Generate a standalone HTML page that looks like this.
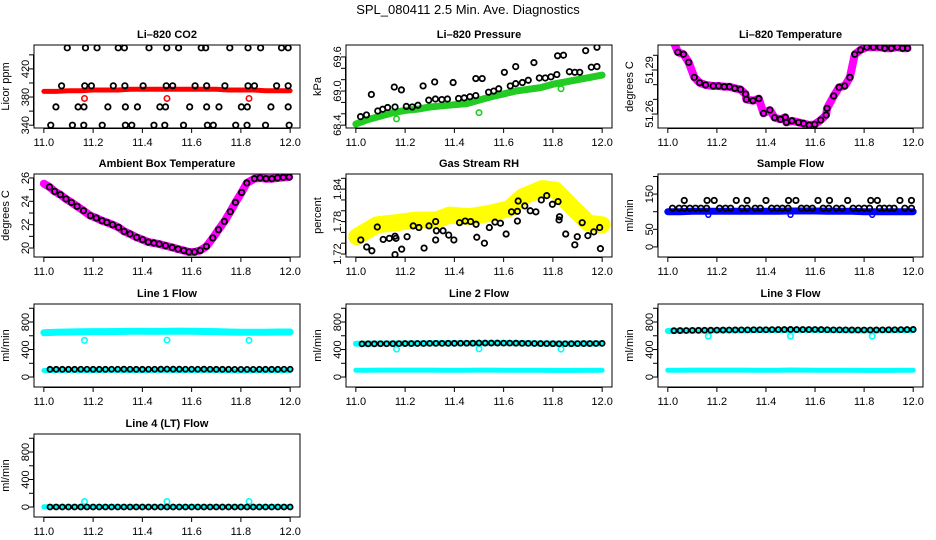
<!DOCTYPE html>
<html><head><meta charset="utf-8"><style>
html,body{margin:0;padding:0;background:#fff}
svg{display:block;font-family:"Liberation Sans",sans-serif}
</style></head><body>
<svg id="fig" width="936" height="540" viewBox="0 0 936 540">
<rect width="936" height="540" fill="#fff"/>
<text x="468" y="14" text-anchor="middle" font-size="13">SPL_080411  2.5 Min. Ave. Diagnostics</text>
</svg>
<script>
// ---- data ----
const timeBand = [11.00,11.05,11.10,11.15,11.20,11.25,11.30,11.35,11.40,11.45,11.50,11.55,11.60,11.65,11.70,11.75,11.80,11.85,11.90,11.95,12.00];
const time41 = [11.000,11.025,11.050,11.075,11.100,11.125,11.150,11.175,11.200,11.225,11.250,11.275,11.300,11.325,11.350,11.375,11.400,11.425,11.450,11.475,11.500,11.525,11.550,11.575,11.600,11.625,11.650,11.675,11.700,11.725,11.750,11.775,11.800,11.825,11.850,11.875,11.900,11.925,11.950,11.975,12.000];
const outlierTimes = [11.165,11.500,11.833];

// CO2
const co2Band = [388,388,389,389,390,390,390,391,391,391,391,391,391,391,391,390,390,390,389,389,389];
const co2BlackX = [11.095,11.169,11.216,11.302,11.327,11.427,11.499,11.547,11.639,11.657,11.755,11.829,11.880,11.965,11.992,
 11.072,11.166,11.193,11.282,11.329,11.403,11.497,11.523,11.614,11.661,11.735,11.829,11.855,11.945,11.992,
 11.049,11.139,11.163,11.260,11.331,11.380,11.471,11.494,11.592,11.661,11.711,11.802,11.826,11.922,11.992,
 11.028,11.116,11.162,11.237,11.331,11.357,11.447,11.491,11.567,11.664,11.688,11.779,11.825,11.900,11.996];
const co2BlackY = [450,450,450,450,450,450,450,450,450,450,450,450,450,450,450,
 396,396,396,396,396,396,396,396,396,396,396,396,396,396,396,
 366,366,366,366,366,366,366,366,366,366,366,366,366,366,366,
 340,340,340,340,340,340,340,340,340,340,340,340,340,340,340];
const co2Outliers = [378,378,378];

// Pressure
const presBand = [68.42,68.50,68.56,68.62,68.66,68.68,68.72,68.74,68.76,68.78,68.84,68.90,68.95,69.00,69.03,69.06,69.12,69.16,69.20,69.24,69.28];
const presBlackX = [11.019,11.043,11.063,11.089,11.109,11.129,11.159,11.156,11.185,11.205,11.229,11.252,11.273,11.296,11.320,11.323,11.349,11.372,11.395,11.417,11.440,11.463,11.487,11.487,11.513,11.539,11.560,11.580,11.603,11.627,11.649,11.649,11.676,11.700,11.723,11.745,11.769,11.792,11.816,11.819,11.843,11.867,11.889,11.909,11.933,11.956,11.979,11.979];
const presBlackY = [68.55,68.58,68.94,68.65,68.68,68.71,68.72,69.07,69.02,68.73,68.72,68.75,69.09,68.84,69.16,68.86,68.85,68.86,69.15,68.87,68.88,68.90,68.92,69.22,69.22,68.98,69.00,69.04,69.33,69.09,69.13,69.43,69.15,69.19,69.50,69.23,69.23,69.25,69.29,69.62,69.63,69.34,69.33,69.33,69.71,69.42,69.77,69.43];
const presOutliers = [68.51,68.62,69.04];

// Li-820 temperature
const ltempX = [11.000,11.019,11.041,11.064,11.085,11.108,11.130,11.154,11.185,11.207,11.230,11.251,11.273,11.296,11.317,11.320,11.347,11.371,11.390,11.416,11.435,11.459,11.479,11.483,11.506,11.533,11.553,11.576,11.599,11.623,11.645,11.649,11.676,11.698,11.721,11.742,11.762,11.785,11.811,11.838,11.865,11.884,11.911,11.935,11.957,11.977];
const ltempY = [51.316,51.3111,51.3021,51.3007,51.2952,51.2850,51.2813,51.2798,51.2791,51.2791,51.2786,51.2786,51.2775,51.2768,51.2736,51.2700,51.2691,51.2705,51.2605,51.2627,51.2575,51.2564,51.2578,51.2543,51.2554,51.2543,51.2536,51.2525,51.2530,51.2559,51.2593,51.2639,51.2723,51.2782,51.2791,51.2850,51.3007,51.3036,51.3055,51.3055,51.3055,51.3048,51.3048,51.3055,51.3048,51.3048];

// Ambient box temperature
const ambX = [11.000,11.023,11.044,11.067,11.090,11.112,11.135,11.161,11.189,11.213,11.236,11.256,11.279,11.303,11.326,11.350,11.377,11.401,11.424,11.447,11.468,11.494,11.521,11.545,11.568,11.589,11.612,11.635,11.660,11.686,11.709,11.733,11.757,11.778,11.803,11.824,11.855,11.878,11.902,11.926,11.949,11.972,11.996];
const ambY = [25.51,25.23,24.85,24.57,24.20,23.91,23.57,23.20,22.77,22.57,22.34,22.19,22.00,21.77,21.42,21.20,20.91,20.71,20.51,20.43,20.34,20.20,20.05,19.91,19.79,19.66,19.66,19.79,20.14,20.86,21.57,22.28,23.11,23.91,24.76,25.57,25.94,26.00,25.94,25.94,26.00,26.05,26.08];

// Gas stream RH
const rhBandX = [11.004,11.085,11.165,11.246,11.327,11.381,11.461,11.542,11.623,11.677,11.757,11.811,11.878,11.945,12.000];
const rhBandY = [1.752,1.774,1.778,1.783,1.783,1.792,1.789,1.795,1.804,1.826,1.841,1.838,1.807,1.777,1.774];
const rhBlackX = [11.020,11.044,11.065,11.087,11.111,11.136,11.159,11.159,11.163,11.186,11.208,11.233,11.256,11.277,11.297,11.324,11.324,11.327,11.354,11.377,11.398,11.421,11.444,11.466,11.488,11.491,11.522,11.542,11.565,11.587,11.610,11.632,11.656,11.656,11.659,11.686,11.708,11.731,11.753,11.775,11.798,11.821,11.825,11.827,11.852,11.889,11.899,11.919,11.942,11.966,11.990,11.993];
const rhBlackY = [1.746,1.733,1.726,1.770,1.747,1.749,1.753,1.719,1.749,1.729,1.752,1.772,1.769,1.731,1.772,1.780,1.746,1.763,1.763,1.755,1.746,1.778,1.781,1.780,1.775,1.751,1.740,1.769,1.779,1.777,1.757,1.798,1.799,1.781,1.818,1.809,1.800,1.798,1.820,1.828,1.812,1.817,1.783,1.789,1.757,1.737,1.752,1.778,1.754,1.761,1.769,1.730];

// Sample flow
const sfBand = [100,100,101,101,101,101,101,101,101,101,102,102,102,101,101,101,100,100,100,100,100];
const sfBlackX = [11.019,11.046,11.067,11.090,11.113,11.135,11.158,11.211,11.235,11.256,11.302,11.323,11.356,11.377,11.423,11.445,11.467,11.490,11.544,11.566,11.589,11.633,11.656,11.687,11.710,11.755,11.778,11.801,11.822,11.863,11.882,11.903,11.922,11.966,11.993,
 11.067,11.160,11.189,11.279,11.323,11.400,11.492,11.522,11.612,11.659,11.733,11.827,11.854,11.946,11.993];
const sfBlackY = [110,110,110,110,110,110,110,110,110,110,110,110,110,110,110,110,110,110,110,110,110,110,110,110,110,110,110,110,110,110,110,110,110,110,110,
 132,132,132,132,132,132,132,132,132,132,132,132,132,132,132];
const sfOutliers = [91,91,91];

// Line flows
const l1CyanHi = [645,650,655,658,660,660,662,665,665,663,665,668,665,662,660,655,650,650,652,655,655];
const l1CyanLo = [95,96,96,95,95,96,96,95,95,96,96,95,95,96,95,90,88,90,92,94,95];
const l1Black = [112,112,112,112,112,112,113,113,112,112,112,113,113,114,113,112,112,113,113,114,115,114,114,113,113,113,114,113,112,112,112,111,111,111,111,112,112,112,112,113,113];
const l1Outliers = [533,536,533];
const l2CyanHi = [485,486,487,488,488,489,490,490,490,490,492,494,494,492,490,488,486,486,487,488,488];
const l2CyanLo = [100,100,101,101,101,101,101,100,100,100,101,101,100,100,99,98,96,96,97,98,99];
const l2Black = [480,482,483,483,484,484,485,486,487,487,488,488,489,489,489,490,490,491,491,492,495,494,494,494,493,493,492,490,489,488,487,486,485,484,484,485,486,487,487,488,489];
const l2Outliers = [405,410,405];
const l3CyanHi = [670,672,675,677,678,680,681,682,682,683,684,685,685,683,682,680,678,679,680,682,683];
const l3CyanLo = [100,100,101,101,101,101,101,100,100,100,102,101,100,100,99,98,96,96,97,98,99];
const l3Black = [672,674,676,677,678,679,680,681,682,683,684,685,686,686,687,688,688,689,690,690,692,690,690,690,691,690,688,686,686,686,685,684,684,684,685,686,687,688,689,690,692];
const l3Outliers = [595,595,595];
const l4Cyan = [3,3,3,3,3,3,3,3,3,3,3,3,3,3,3,3,3,3,3,3,3];
const l4Black = [0,0,0,0,0,0,0,0,0,0,0,0,0,0,0,0,0,0,0,0,0,0,0,0,0,0,0,0,0,0,0,0,0,0,0,0,0,0,0,0,0];
const l4Outliers = [80,80,80];

const xTicks = [11.0,11.2,11.4,11.6,11.8,12.0];
const xTickLabels = ["11.0","11.2","11.4","11.6","11.8","12.0"];

// ---- layout ----
const NS = "http://www.w3.org/2000/svg";
const svg = document.getElementById('fig');
const colL = [34,346,658], colR = [300,612,923];
const rowT = [45,174,304,434], rowB = [128,257,387,517];

function mk(tag, attrs, parent){
  const e = document.createElementNS(NS, tag);
  for (const k in attrs) e.setAttribute(k, attrs[k]);
  (parent||svg).appendChild(e);
  return e;
}

function panel(id, title, ylab, col, row, ymin, ymax, yticks, ylabels){
  const L = colL[col], R = colR[col], T = rowT[row], B = rowB[row];
  const g = mk('g', {});
  
  
  const pad = (R - L) * 0.04 / 1.08;
  const xs = v => L + pad + (v - 11) * (R - L - 2*pad);
  const ys = v => B - (v - ymin) / (ymax - ymin) * (B - T);
  const clipId = 'clip-' + id;
  const cp = mk('clipPath', {id: clipId}, g);
  mk('rect', {x: L, y: T, width: R - L, height: B - T}, cp);
  const plot = mk('g', {'clip-path': 'url(#' + clipId + ')'}, g);
  
  
  const t = mk('text', {x: (L + R) / 2, y: T - 7, 'text-anchor': 'middle', 'font-size': 11, 'font-weight': 'bold'}, g);
  
  
  t.textContent = title;
  const fr = mk('rect', {x: L, y: T, width: R - L, height: B - T, fill: 'none', stroke: '#000', 'stroke-width': 1}, g);
  
  
  const xa = mk('g', {}, g);
  
  
  mk('line', {x1: xs(xTicks[0]), x2: xs(xTicks[xTicks.length-1]), y1: B + 0.5, y2: B + 0.5, stroke: '#000'}, xa);
  xTicks.forEach((v, i) => {
    mk('line', {x1: xs(v), x2: xs(v), y1: B, y2: B + 5, stroke: '#000'}, xa);
    const tl = mk('text', {x: xs(v), y: B + 18, 'text-anchor': 'middle', 'font-size': 11}, xa);
    
    
    tl.textContent = xTickLabels[i];
  });
  const ya = mk('g', {}, g);
  
  
  mk('line', {x1: L - 0.5, x2: L - 0.5, y1: ys(yticks[0]), y2: ys(yticks[yticks.length-1]), stroke: '#000'}, ya);
  yticks.forEach((v, i) => {
    mk('line', {x1: L - 5, x2: L, y1: ys(v), y2: ys(v), stroke: '#000'}, ya);
    if (ylabels[i] !== '') {
      const tx = L - 5, ty = ys(v);
      const tl = mk('text', {x: tx, y: ty, 'text-anchor': 'middle', 'font-size': 11, transform: 'rotate(-90 ' + tx + ' ' + ty + ')'}, ya);
      
      
      tl.textContent = ylabels[i];
    }
  });
  const lx = L - 25, ly = (T + B) / 2;
  const yl = mk('text', {x: lx, y: ly, 'text-anchor': 'middle', 'font-size': 11, transform: 'rotate(-90 ' + lx + ' ' + ly + ')'}, g);
  
  
  yl.textContent = ylab;
  return {plot, xs, ys};
}

function band(p, name, xArr, yArr, color, w){
  const pts = xArr.map((x, i) => p.xs(x).toFixed(1) + ',' + p.ys(yArr[i]).toFixed(1)).join(' ');
  const pl = mk('polyline', {points: pts, fill: 'none', stroke: color, 'stroke-width': w, 'stroke-linecap': 'round', 'stroke-linejoin': 'round'}, p.plot);
  
  
}
function points(p, name, xArr, yArr, color, r, sw){
  const g = mk('g', {}, p.plot);
  
  
  xArr.forEach((x, i) => {
    const c = mk('circle', {cx: p.xs(x), cy: p.ys(yArr[i]), r: r, fill: 'none', stroke: color, 'stroke-width': sw}, g);
    
    
  });
}

const CYAN = '#00ffff', BLK = '#000';
const BR = 2.7, BW = 1.8;

let p = panel('co2', 'Li\u2013820 CO2', 'Licor ppm', 0, 0, 336, 454, [340,360,380,400,420,440], ['340','','380','','420','']);
band(p, 'co2-band', timeBand, co2Band, '#ff0000', 5);
points(p, 'co2-outliers', outlierTimes, co2Outliers, '#ff0000', 2.7, 1.6);
points(p, 'co2-black-points', co2BlackX, co2BlackY, BLK, BR, BW);

p = panel('pressure', 'Li\u2013820 Pressure', 'kPa', 1, 0, 68.35, 69.81, [68.4,68.6,68.8,69.0,69.2,69.4,69.6], ['68.4','','','69.0','','','69.6']);
band(p, 'pressure-band', timeBand, presBand, '#22cc22', 7);
points(p, 'pressure-outliers', outlierTimes, presOutliers, '#22cc22', 2.7, 1.6);
points(p, 'pressure-black-points', presBlackX, presBlackY, BLK, BR, BW);

p = panel('li-temp', 'Li\u2013820 Temperature', 'degrees C', 2, 0, 51.2505, 51.307, [51.26,51.27,51.28,51.29,51.30], ['51.26','','','51.29','']);
band(p, 'li-temp-band', ltempX, ltempY, '#ff00ff', 8);
points(p, 'li-temp-black-points', ltempX.slice(1), ltempY.slice(1), BLK, BR, BW);

p = panel('ambient', 'Ambient Box Temperature', 'degrees C', 0, 1, 19.23, 26.34, [20,21,22,23,24,25,26], ['20','','22','','24','','26']);
band(p, 'ambient-band', ambX, ambY, '#ff00ff', 8);
points(p, 'ambient-black-points', ambX.slice(1), ambY.slice(1), BLK, BR, BW);

p = panel('rh', 'Gas Stream RH', 'percent', 1, 1, 1.7145, 1.868, [1.72,1.74,1.76,1.78,1.80,1.82,1.84,1.86], ['1.72','','','1.78','','','1.84','']);
band(p, 'rh-band', rhBandX, rhBandY, '#ffff00', 17);
points(p, 'rh-black-points', rhBlackX, rhBlackY, BLK, BR, BW);

p = panel('sample-flow', 'Sample Flow', 'ml/min', 2, 1, -28.6, 207, [0,50,100,150,200], ['0','50','','150','']);
band(p, 'sample-flow-band', timeBand, sfBand, '#0000ff', 7);
points(p, 'sample-flow-outliers', outlierTimes, sfOutliers, '#0000ff', 2.4, 1.5);
points(p, 'sample-flow-black-points', sfBlackX, sfBlackY, BLK, BR, BW);

const fT = [0,200,400,600,800,1000], fL = ['0','','400','','800',''];
p = panel('line1', 'Line 1 Flow', 'ml/min', 0, 2, -145, 1062, fT, fL);
band(p, 'line1-cyan-high', timeBand, l1CyanHi, CYAN, 7);
band(p, 'line1-cyan-low', timeBand, l1CyanLo, CYAN, 5);
points(p, 'line1-outliers', outlierTimes, l1Outliers, CYAN, 2.7, 1.6);
points(p, 'line1-black-points', time41.slice(1), l1Black.slice(1), BLK, 2.5, BW);

p = panel('line2', 'Line 2 Flow', 'ml/min', 1, 2, -145, 1062, fT, fL);
band(p, 'line2-cyan-high', timeBand, l2CyanHi, CYAN, 6);
band(p, 'line2-cyan-low', timeBand, l2CyanLo, CYAN, 5);
points(p, 'line2-outliers', outlierTimes, l2Outliers, CYAN, 2.7, 1.6);
points(p, 'line2-black-points', time41.slice(1), l2Black.slice(1), BLK, 2.5, BW);

p = panel('line3', 'Line 3 Flow', 'ml/min', 2, 2, -145, 1062, fT, fL);
band(p, 'line3-cyan-high', timeBand, l3CyanHi, CYAN, 6);
band(p, 'line3-cyan-low', timeBand, l3CyanLo, CYAN, 5);
points(p, 'line3-outliers', outlierTimes, l3Outliers, CYAN, 2.7, 1.6);
points(p, 'line3-black-points', time41.slice(1), l3Black.slice(1), BLK, 2.5, BW);

p = panel('line4', 'Line 4 (LT) Flow', 'ml/min', 0, 3, -145, 1062, fT, fL);
band(p, 'line4-cyan', timeBand, l4Cyan, CYAN, 5);
points(p, 'line4-outliers', outlierTimes, l4Outliers, CYAN, 2.7, 1.6);
points(p, 'line4-black-points', time41.slice(1), l4Black.slice(1), BLK, 2.5, BW);
</script>
</body></html>
